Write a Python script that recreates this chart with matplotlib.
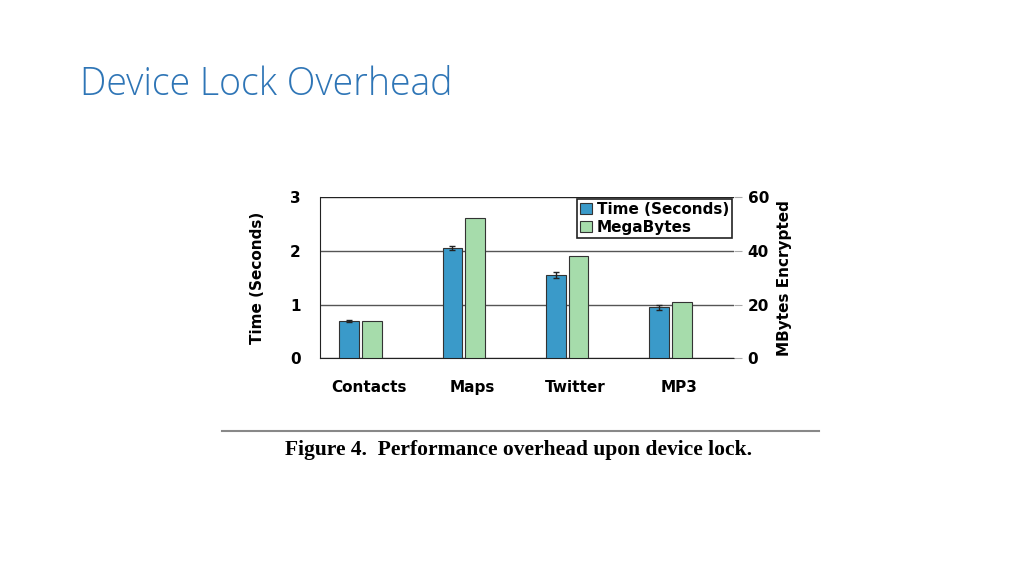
import matplotlib.pyplot as plt
import numpy as np

categories = ["Contacts", "Maps", "Twitter", "MP3"]
time_sec = [0.69, 2.05, 1.55, 0.95]
time_err = [0.02, 0.04, 0.06, 0.05]
megabytes = [14, 52, 38, 21]

BLUE = "#3a9ac9"
GREEN = "#a6dcab"

fig = plt.figure(figsize=(10.24, 5.76), dpi=100)
fig.patch.set_facecolor("white")

fig.text(0.078, 0.853, "Device Lock Overhead", fontsize=27, color="#2e75b6",
         family="Open Sans", fontweight="light", ha="left", va="center")

ax = fig.add_axes([0.3125, 0.378, 0.404, 0.280])
ax2 = ax.twinx()

x = np.arange(len(categories))
w = 0.19
ax.bar(x - 0.22, time_sec, w, yerr=time_err, color=BLUE, edgecolor="#333333",
       lw=0.8, error_kw=dict(lw=1, capsize=2, ecolor="#222222"), zorder=3,
       label="Time (Seconds)")
ax2.bar(x, megabytes, w, color=GREEN, edgecolor="#333333", lw=0.8, zorder=3,
        label="MegaBytes")

ax.set_xlim(-0.5, 3.5)
ax.set_ylim(0, 3)
ax2.set_ylim(0, 60)
ax.set_yticks([0, 1, 2, 3])
ax2.set_yticks([0, 20, 40, 60])
ax.yaxis.grid(True, color="#555555", lw=1)
ax.set_axisbelow(True)
ax.set_xticks(x - 0.03)
ax.set_xticklabels(categories)
ax.tick_params(axis="x", length=0, pad=16)
ax.tick_params(axis="y", length=0, pad=14)
ax2.tick_params(axis="y", length=6, color="#aaaaaa", pad=4)
for t in ax.get_xticklabels() + ax.get_yticklabels() + ax2.get_yticklabels():
    t.set_fontsize(11)
    t.set_fontweight("bold")
ax.set_ylabel("Time (Seconds)", fontsize=11, fontweight="bold", labelpad=18)
ax2.set_ylabel("MBytes Encrypted", fontsize=11, fontweight="bold", labelpad=6)
for s in ["top", "right"]:
    ax.spines[s].set_visible(False)
    ax2.spines[s].set_visible(False)
ax2.spines["left"].set_visible(False)
ax2.spines["bottom"].set_visible(False)
ax.spines["left"].set_color("#222222")
ax.spines["bottom"].set_color("#222222")
ax.axhline(3, color="#222222", lw=1.5)

h1, l1 = ax.get_legend_handles_labels()
h2, l2 = ax2.get_legend_handles_labels()
leg = ax2.legend(h1 + h2, l1 + l2, loc="upper right",
                 prop=dict(size=11, weight="bold"), fancybox=False,
                 edgecolor="#222222", framealpha=1, borderpad=0.2,
                 handlelength=0.8, handletextpad=0.3, labelspacing=0.2,
                 borderaxespad=0.1)
leg.get_frame().set_linewidth(1.2)

fig.add_artist(plt.Line2D([0.217, 0.8], [0.252, 0.252], color="#888888", lw=1.5))
fig.text(0.506, 0.218, "Figure 4.  Performance overhead upon device lock.",
         ha="center", va="center", fontsize=15.5, fontweight="bold",
         family="Liberation Serif")

fig.savefig("out.png", dpi=100)
